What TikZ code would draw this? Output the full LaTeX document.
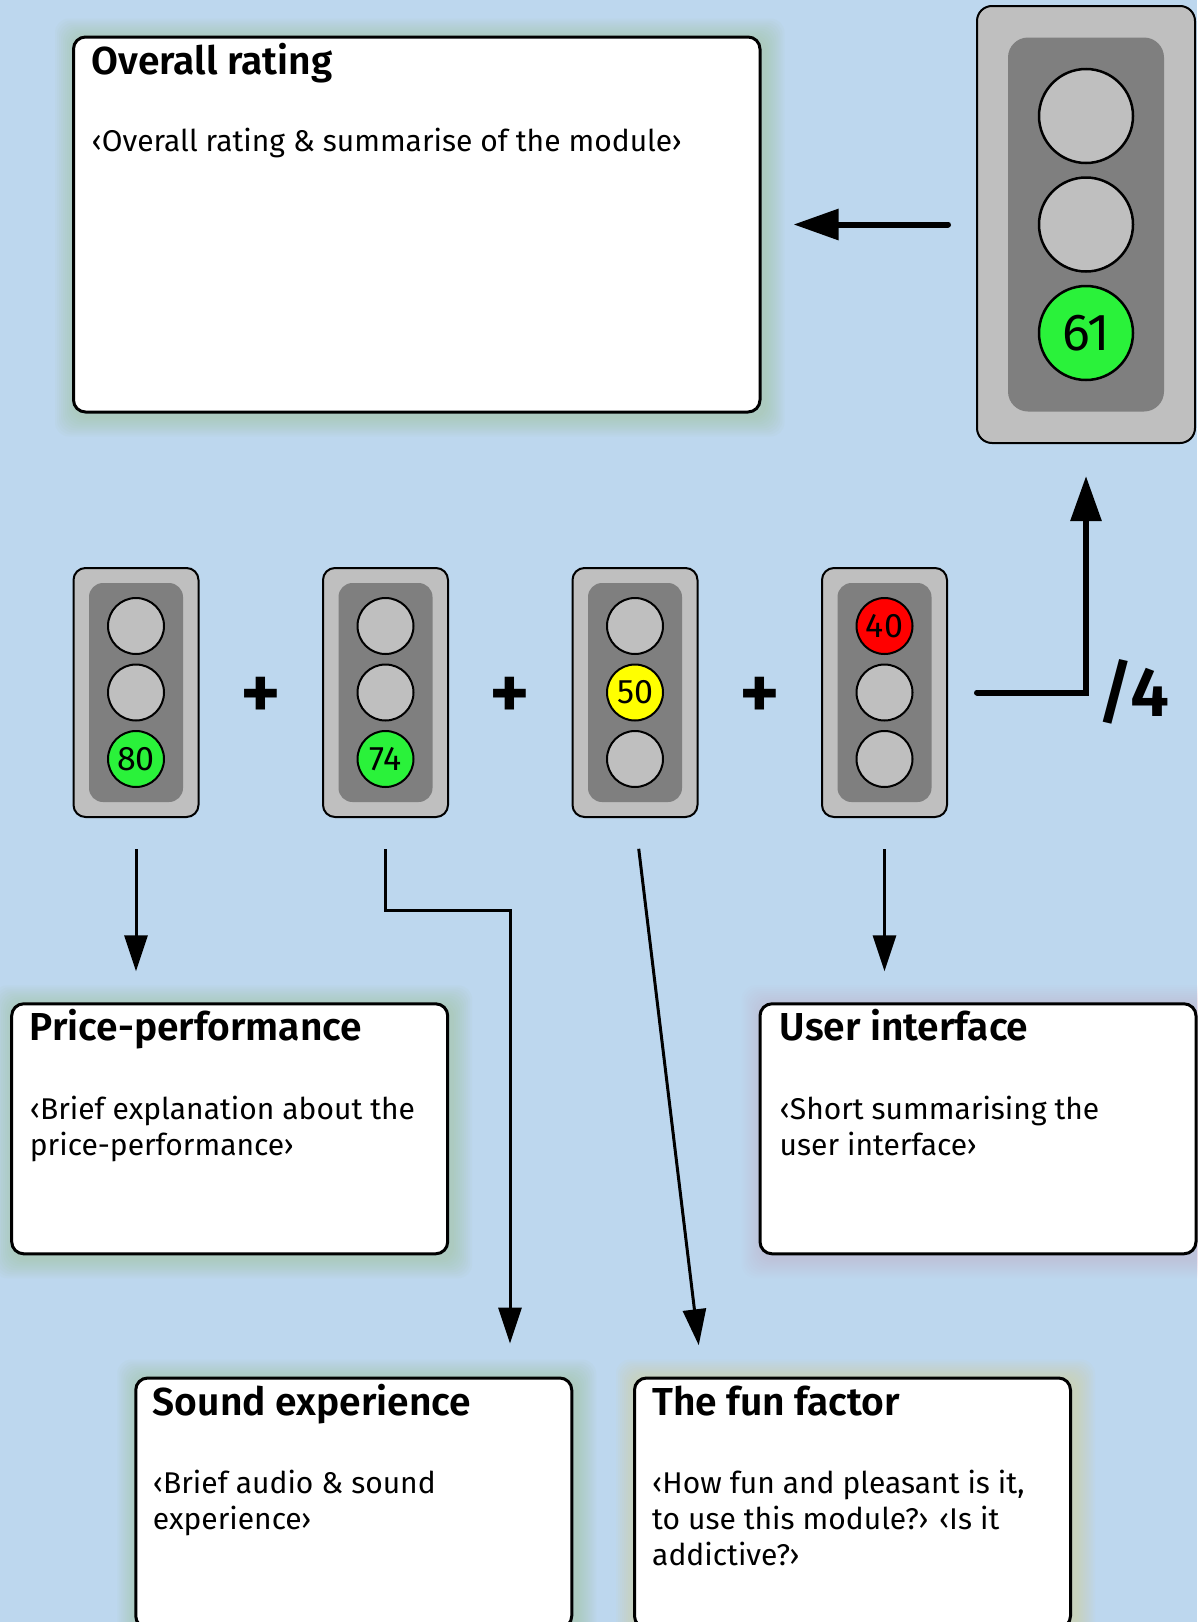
\documentclass[tikz,border=0pt]{standalone}
\usepackage{fontspec}
\setmainfont{Fira Sans}[BoldFont={Fira Sans SemiBold}]
\usetikzlibrary{arrows.meta,backgrounds}

\definecolor{bgblue}{RGB}{189,215,238}
\definecolor{casegray}{RGB}{191,191,191}
\definecolor{panelgray}{RGB}{127,127,127}
\definecolor{lampgray}{RGB}{191,191,191}
\definecolor{lampgreen}{RGB}{42,242,58}
\definecolor{lampyellow}{RGB}{255,255,0}
\definecolor{lampred}{RGB}{255,0,0}
\definecolor{glowgreen}{RGB}{150,185,110}
\definecolor{glowpink}{RGB}{205,165,195}
\definecolor{glowyellow}{RGB}{225,210,100}

\tikzset{
  lightcase/.style={draw, line width=2pt, fill=casegray, rounded corners=12pt, inner sep=0pt, minimum width=125pt, minimum height=249pt},
  lightpanel/.style={fill=panelgray, rounded corners=14pt, inner sep=0pt, minimum width=94pt, minimum height=219pt},
  lamp/.style={circle, draw, line width=2pt, fill=lampgray, inner sep=0pt, minimum size=56pt, font=\fontsize{34}{34}\selectfont},
  bigcase/.style={lightcase, rounded corners=15pt, minimum width=218pt, minimum height=437pt},
  bigpanel/.style={lightpanel, rounded corners=20pt, minimum width=156pt, minimum height=374pt},
  biglamp/.style={lamp, line width=2.5pt, minimum size=94pt, font=\fontsize{52}{52}\selectfont},
  card/.style={draw, line width=3pt, fill=white, rounded corners=12pt, inner sep=0pt, minimum width=436pt, minimum height=250pt},
  heading/.style={anchor=base west, inner sep=0pt, font=\fontsize{39}{39}\selectfont\bfseries},
  bodytext/.style={anchor=base west, inner sep=0pt, align=left, font=\fontsize{30}{36}\selectfont},
  plussign/.style={inner sep=0pt, font=\fontsize{78}{78}\selectfont\bfseries},
  fat/.style={line width=6pt, -{Triangle[length=45pt,width=30pt]}, line cap=round},
  slim/.style={line width=3pt, -{Triangle[length=36pt,width=23pt]}},
}

\begin{document}
\begin{tikzpicture}[x=1pt,y=-1pt]
\useasboundingbox (0,0) rectangle (1197,1622);

% overall result
\node[card, minimum width=686.5pt, minimum height=375pt] (ovr) at (416.75,224.5) {};
\node[heading] (ovrt) at ([xshift=19.5pt,yshift=-38.5pt]ovr.north west) {Overall rating};
\node[bodytext] (ovrb) at ([xshift=19.5pt,yshift=-115.5pt]ovr.north west) {‹Overall rating \& summarise of the module›};

\node[bigcase] (big) at (1086,224.5) {};
\node[bigpanel] (bigp) at (big) {};
\node[biglamp] (bigr) at (1086,116) {};
\node[biglamp] (bigy) at (1086,224.5) {};
\node[biglamp, fill=lampgreen] (bigg) at (1086,333) {61};

% single ratings
\node[lightcase] (l1) at (136,692.5) {};
\node[lightpanel] (l1p) at (l1) {};
\node[lamp] (l1r) at (136,626) {};
\node[lamp] (l1y) at (136,692.5) {};
\node[lamp, fill=lampgreen] (l1g) at (136,759) {80};

\node[lightcase] (l2) at (385.5,692.5) {};
\node[lightpanel] (l2p) at (l2) {};
\node[lamp] (l2r) at (385.5,626) {};
\node[lamp] (l2y) at (385.5,692.5) {};
\node[lamp, fill=lampgreen] (l2g) at (385.5,759) {74};

\node[lightcase] (l3) at (635,692.5) {};
\node[lightpanel] (l3p) at (l3) {};
\node[lamp] (l3r) at (635,626) {};
\node[lamp, fill=lampyellow] (l3y) at (635,692.5) {50};
\node[lamp] (l3g) at (635,759) {};

\node[lightcase] (l4) at (884.5,692.5) {};
\node[lightpanel] (l4p) at (l4) {};
\node[lamp, fill=lampred] (l4r) at (884.5,626) {40};
\node[lamp] (l4y) at (884.5,692.5) {};
\node[lamp] (l4g) at (884.5,759) {};

\node[plussign] (p1) at (260.5,698) {+};
\node[plussign] (p2) at (510,698) {+};
\node[plussign] (p3) at (759.5,698) {+};
\node[anchor=base, inner sep=0pt, font=\fontsize{70}{70}\selectfont\bfseries] (div) at (1133,716) {/4};

% explanations
\node[card] (price) at (229.7,1128.8) {};
\node[heading] (pricet) at ([xshift=19.5pt,yshift=-38.5pt]price.north west) {Price-performance};
\node[bodytext] (priceb) at ([xshift=19.5pt,yshift=-153pt]price.north west) {‹Brief explanation about the\\price-performance›};

\node[card] (ui) at (978,1128.8) {};
\node[heading] (uit) at ([xshift=21pt,yshift=-38.5pt]ui.north west) {User interface};
\node[bodytext] (uib) at ([xshift=21pt,yshift=-153pt]ui.north west) {‹Short summarising the\\user interface›};

\node[card] (snd) at (353.75,1503) {};
\node[heading] (sndt) at ([xshift=18.5pt,yshift=-38.5pt]snd.north west) {Sound experience};
\node[bodytext] (sndb) at ([xshift=18.5pt,yshift=-153pt]snd.north west) {‹Brief audio \& sound\\experience›};

\node[card] (fun) at (852.5,1503) {};
\node[heading] (funt) at ([xshift=19pt,yshift=-38.5pt]fun.north west) {The fun factor};
\node[bodytext] (funb) at ([xshift=19pt,yshift=-189pt]fun.north west) {‹How fun and pleasant is it,\\to use this module?› ‹Is it\\addictive?›};

% arrows
\coordinate (bend) at (510,910.5);
\coordinate (funin) at (702.7,1378);
\draw[fat] ([xshift=29pt]l4.east) -- (big.south |- l4.east) -- ([yshift=-32pt]big.south);
\draw[fat] ([xshift=-28pt]big.west) -- ([xshift=32pt]ovr.east);
\draw[slim, shorten <=31pt, shorten >=31pt] (l1.south) -- (l1.south |- price.north);
\draw[slim, shorten <=31pt, shorten >=33pt] (l2.south) |- (bend) -- (bend |- snd.north);
\draw[slim, shorten <=31pt, shorten >=33pt] (l3.south) -- (funin);
\draw[slim, shorten <=31pt, shorten >=31pt] (l4.south) -- (l4.south |- ui.north);

\begin{scope}[on background layer]
\fill[bgblue] (0,0) rectangle (1197,1622);
\foreach \b/\c in {ovr/glowgreen, price/glowgreen, ui/glowpink, snd/glowgreen, fun/glowyellow}
  \foreach \g in {2,4,...,20}
    \fill[\c, opacity=0.04, rounded corners=14pt] ([shift={({3-\g},{3-\g})}]\b.north west) rectangle ([shift={({3+\g},{3+\g})}]\b.south east);
\end{scope}
\end{tikzpicture}
\end{document}
